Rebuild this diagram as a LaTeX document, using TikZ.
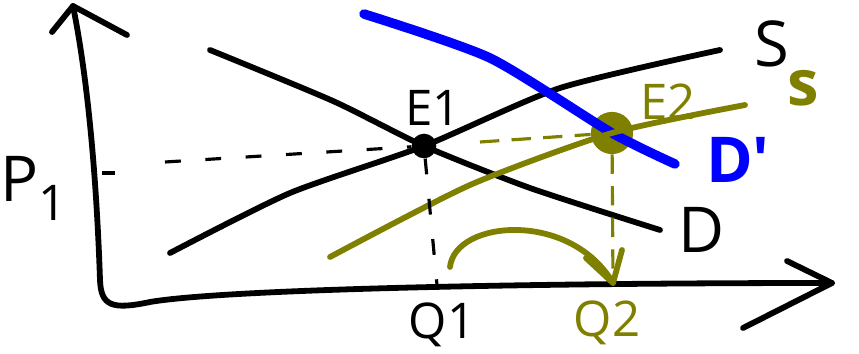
\documentclass[tikz,border=0pt]{standalone}
\usepackage{fontspec}
\setmainfont{Open Sans}
\usepackage{tikz}
\usetikzlibrary{arrows.meta,positioning,calc}
\definecolor{olivegreen}{RGB}{128,128,0}
\tikzset{
  curve/.style={line width=3.3pt,line cap=round,line join=round},
  shifted/.style={curve,draw=olivegreen},
  newdemand/.style={line width=5.4pt,line cap=round,draw=blue},
  guide/.style={line width=1.8pt,dash pattern=on 9pt off 14pt},
  oguide/.style={line width=1.8pt,draw=olivegreen,dash pattern=on 11pt off 7pt},
  lbl/.style={inner sep=0pt,font=\fontsize{36}{38}\selectfont},
  small/.style={inner sep=0pt,font=\fontsize{28}{30}\selectfont},
  dot/.style={circle,fill,inner sep=0pt,minimum size=#1},
}
\begin{document}
\begin{tikzpicture}[x=0.02cm,y=-0.02cm]
\useasboundingbox (0,0) rectangle (859,354);
% axes
\coordinate (ytip) at (73,6); \coordinate (xtip) at (832,283);
\draw[curve] (ytip) .. controls (92,100) and (98,220) .. (100,280) .. controls (101,306) and (112,310) .. (150,302) .. controls (220,290) and (500,283) .. (xtip);
\draw[curve] (52,32) -- (ytip) -- (127,35); \draw[curve] (787,261) -- (xtip) -- (743,328);
\coordinate (p1) at (102,173); \draw[line width=1.8pt] (p1) -- ++(13,0);
\coordinate (q1) at (437,285); \coordinate (q2) at (613,283);
% equilibrium points
\node[dot=14pt] (e1) at (424,146) {};
\node[dot=24pt,fill=olivegreen] (e2) at (612,133) {};
% original curves
\draw[curve] plot[smooth,tension=0.4] coordinates {(210,50) (333,101) (e1.center) (530,188) (660,230)};
\draw[curve] plot[smooth,tension=0.4] coordinates {(170,253) (290,193) (e1.center) (560,88) (720,50)};
\draw[newdemand] plot[smooth,tension=0.4] coordinates {(364,14) (490,58) (e2.center) (675,164)};
\draw[shifted] plot[smooth,tension=0.4] coordinates {(330,257) (470,185) (e2.center) (745,105)};
% guides
\draw[guide] (165,162) -- (e1); \draw[guide] (e1) -- (q1);
\draw[oguide] (480,142) -- (e2); \draw[oguide] (e2) -- (q2);
\coordinate (arrstart) at (450,267);
\draw[shifted] (arrstart) .. controls (455,220) and (570,210) .. (q2);
\draw[shifted] (586,258) -- (q2) -- (622,250);
% labels
\node[lbl] (plbl) at (34,188) {P\raisebox{-0.3em}{\fontsize{28}{30}\selectfont 1}};
\node[small] (e1lbl) at (433,108) {E1};
\node[small,text=olivegreen] (e2lbl) at (668,102) {E2};
\node[lbl] (slbl) at (772,44) {S};
\node[lbl,text=olivegreen,font=\bfseries\fontsize{36}{38}\selectfont] (s2lbl) at (803,88) {s};
\node[lbl,text=blue,font=\bfseries\fontsize{36}{38}\selectfont] (dnlbl) at (738,160) {D′};
\node[lbl] (dlbl) at (702,230) {D};
\node[small] (q1lbl) at (442,325) {Q1};
\node[small,text=olivegreen] (q2lbl) at (607,323) {Q2};
\end{tikzpicture}
\end{document}
